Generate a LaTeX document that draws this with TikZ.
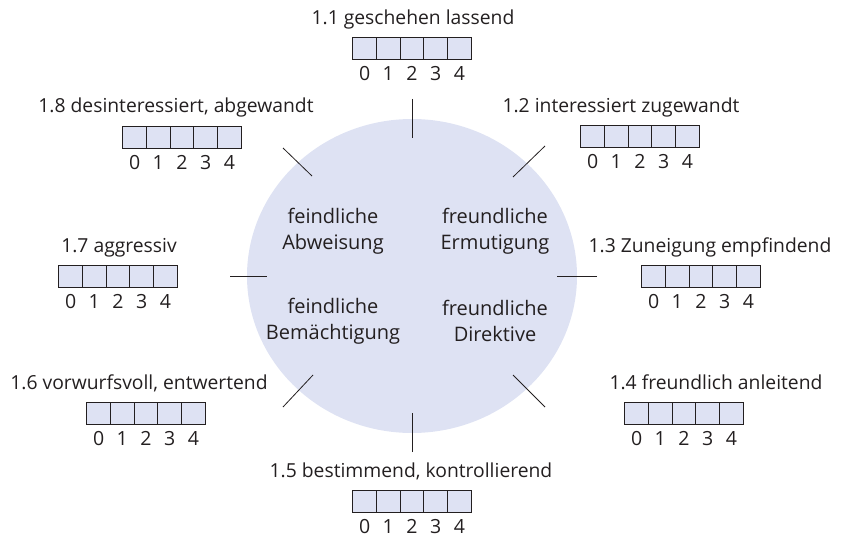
\documentclass[tikz,border=0pt]{standalone}
\usepackage{fontspec}
\setmainfont{Open Sans}
\usetikzlibrary{shapes.geometric}
\definecolor{txtc}{HTML}{231F20}
\definecolor{fillc}{HTML}{DEE2F3}
\newcommand\ratebox[3]{%
  \foreach \i in {0,...,4} {%
    \node[cell] (#1c\i) at ({#2+(\i-2)*23.7},{#3+11}) {};
    \node[dig] (#1d\i) at ({#2+(\i-2)*23.7},{#3+43}) {\i};
  }%
}
\begin{document}
\begin{tikzpicture}[x=1pt,y=-1pt,
  cell/.style={draw=txtc, fill=fillc, minimum width=23.7pt, minimum height=22pt, inner sep=0pt, outer sep=0pt, line width=1pt},
  lbl/.style={font=\fontsize{19.3}{22}\selectfont, text=txtc, inner sep=0pt, anchor=base},
  dig/.style={font=\fontsize{19.5}{22}\selectfont, text=txtc, inner sep=0pt, anchor=base},
  inner/.style={font=\fontsize{20}{26}\selectfont, text=txtc, align=center, inner sep=0pt},
  tick/.style={draw=txtc, line width=0.8pt}]
\useasboundingbox (0,0) rectangle (844,551);
\node[ellipse, fill=fillc, minimum width=330pt, minimum height=314pt, inner sep=0pt] (c) at (412,276) {};
\node[inner] (fa) at (333,231) {feindliche\\Abweisung};
\node[inner] (fe) at (495,231) {freundliche\\Ermutigung};
\node[inner] (fb) at (333,321) {feindliche\\Bemächtigung};
\node[inner] (fd) at (495,321) {freundliche\\Direktive};
% ticks
\coordinate (t1a) at (412.5,99);  \coordinate (t1b) at (412.5,138);
\coordinate (t2a) at (545,146); \coordinate (t2b) at (513,177);
\coordinate (t3a) at (597,276.5); \coordinate (t3b) at (557,276.5);
\coordinate (t4a) at (545,407); \coordinate (t4b) at (513,375);
\coordinate (t5a) at (412.5,452); \coordinate (t5b) at (412.5,413);
\coordinate (t6a) at (283,407); \coordinate (t6b) at (313,375);
\coordinate (t7a) at (230,276.5); \coordinate (t7b) at (267,276.5);
\coordinate (t8a) at (283,148); \coordinate (t8b) at (312,176);
\foreach \k in {1,...,8} {\draw[tick] (t\k a) -- (t\k b);}
% labels and boxes
\node[lbl] (l1) at (413,25) {1.1 geschehen lassend};
\ratebox{b1}{412}{38}
\node[lbl] (l8) at (176,113) {1.8 desinteressiert, abgewandt};
\ratebox{b8}{182}{126}
\node[lbl] (l2) at (621,112) {1.2 interessiert zugewandt};
\ratebox{b2}{640}{125}
\node[lbl] (l7) at (119,252) {1.7 aggressiv};
\ratebox{b7}{118}{265}
\node[lbl] (l3) at (710,252) {1.3 Zuneigung empfindend};
\ratebox{b3}{701}{265}
\node[lbl] (l6) at (139,389) {1.6 vorwurfsvoll, entwertend};
\ratebox{b6}{146}{402}
\node[lbl] (l4) at (716,389) {1.4 freundlich anleitend};
\ratebox{b4}{684}{402}
\node[lbl] (l5) at (411,477) {1.5 bestimmend, kontrollierend};
\ratebox{b5}{412}{490}
\end{tikzpicture}
\end{document}
